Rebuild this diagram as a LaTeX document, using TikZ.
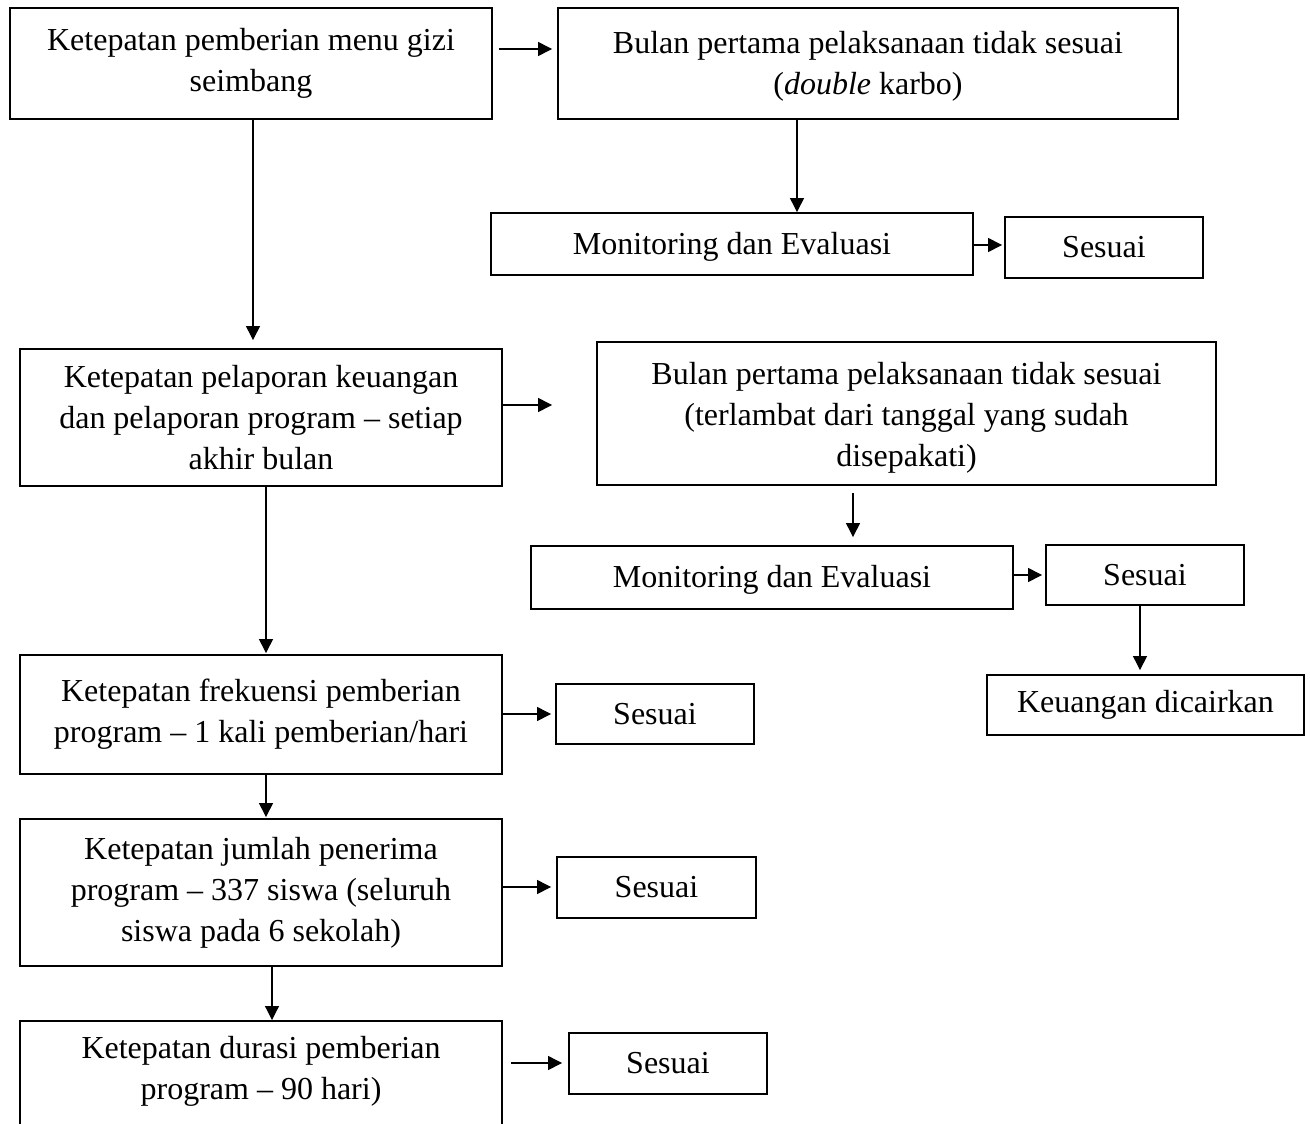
\documentclass[tikz,border=0pt]{standalone}
\usepackage{fontspec}
\setmainfont{Liberation Serif}
\usetikzlibrary{arrows.meta}
\begin{document}
\begin{tikzpicture}[x=0.75pt,y=-0.75pt,
  box/.style={draw, line width=1.4pt, inner sep=0pt, align=center,
    font=\fontsize{24pt}{30.75pt}\selectfont},
  txt/.style={inner sep=0pt, align=center, font=\fontsize{24pt}{30.75pt}\selectfont},
  arr/.style={line width=0.9pt, -{Triangle[length=10.5pt,width=10.5pt]}}]
\clip (0,0) rectangle (1310,1124);
% boxes
\node[box, minimum width=361.5pt, minimum height=83.25pt] (A) at (251,63.5)
  {Ketepatan pemberian menu gizi\\seimbang};
\node[box, minimum width=465pt, minimum height=83.25pt] (B) at (868,63.5) {};
\node[txt] (Bt) at (868,66) {Bulan pertama pelaksanaan tidak sesuai\\(\textit{double} karbo)};
\node[box, minimum width=361.5pt, minimum height=46.5pt] (C) at (732,244) {};
\node[txt] (Ct) at (732,247) {Monitoring dan Evaluasi};
\node[box, minimum width=148.5pt, minimum height=45.75pt] (D) at (1104,247.5)
  {Sesuai};
\node[box, minimum width=361.5pt, minimum height=102.75pt] (E) at (261,417.5)
  {Ketepatan pelaporan keuangan\\dan pelaporan program -- setiap\\akhir bulan};
\node[box, minimum width=464.25pt, minimum height=107.25pt] (F) at (906.5,413.5) {};
\node[txt] (Ft) at (906.5,418) {Bulan pertama pelaksanaan tidak sesuai\\(terlambat dari tanggal yang sudah\\disepakati)};
\node[box, minimum width=361.5pt, minimum height=47.25pt] (G) at (772,577.5) {};
\node[txt] (Gt) at (772,580) {Monitoring dan Evaluasi};
\node[box, minimum width=148.5pt, minimum height=45pt] (H) at (1145,575)
  {Sesuai};
\node[box, minimum width=237.75pt, minimum height=45pt] (I) at (1145.5,705)
  {Keuangan dicairkan};
\node[box, minimum width=361.5pt, minimum height=89.25pt] (J) at (261,714.5)
  {Ketepatan frekuensi pemberian\\program -- 1 kali pemberian/hari};
\node[box, minimum width=148.5pt, minimum height=45pt] (K) at (655,714)
  {Sesuai};
\node[box, minimum width=361.5pt, minimum height=110.25pt] (L) at (261,892.5)
  {Ketepatan jumlah penerima\\program -- 337 siswa (seluruh\\siswa pada 6 sekolah)};
\node[box, minimum width=149.25pt, minimum height=45.75pt] (M) at (656.5,887.5)
  {Sesuai};
\node[box, minimum width=361.5pt, minimum height=90pt, anchor=north] (N) at (261,1020) {};
\node[txt] (Nt) at (261,1071) {Ketepatan durasi pemberian\\program -- 90 hari)};
\node[box, minimum width=148.5pt, minimum height=45.75pt] (O) at (668,1063.5)
  {Sesuai};
% helper coordinates
\coordinate (yab) at (0,49);
\coordinate (xbc) at (797,0);
\coordinate (ycd) at (0,245);
\coordinate (xae) at (253,0);
\coordinate (yef) at (0,405);
\coordinate (xfg) at (853,0);
\coordinate (ygh) at (0,575);
\coordinate (xhi) at (1140,0);
\coordinate (xej) at (266,0);
\coordinate (yjk) at (0,714);
\coordinate (xjl) at (266,0);
\coordinate (ylm) at (0,887);
\coordinate (xln) at (272,0);
\coordinate (yno) at (0,1063);
% arrows
\draw[arr, shorten <=4.5pt, shorten >=3.75pt] (A.east |- yab) -- (B.west |- yab);
\draw[arr] (B.south -| xbc) -- (C.north -| xbc);
\draw[arr, shorten >=1.5pt] (C.east |- ycd) -- (D.west |- ycd);
\draw[arr, shorten >=6pt] (A.south -| xae) -- (E.north -| xae);
\draw[arr, shorten >=33pt] (E.east |- yef) -- (F.west |- yef);
\draw[arr, shorten <=5.25pt, shorten >=6pt] (F.south -| xfg) -- (G.north -| xfg);
\draw[arr, shorten >=2.25pt] (G.east |- ygh) -- (H.west |- ygh);
\draw[arr, shorten >=3pt] (H.south -| xhi) -- (I.north -| xhi);
\draw[arr, shorten >=0.75pt] (E.south -| xej) -- (J.north -| xej);
\draw[arr, shorten >=3pt] (J.east |- yjk) -- (K.west |- yjk);
\draw[arr, shorten >=0.75pt] (J.south -| xjl) -- (L.north -| xjl);
\draw[arr, shorten >=3.75pt] (L.east |- ylm) -- (M.west |- ylm);
\draw[arr] (L.south -| xln) -- (N.north -| xln);
\draw[arr, shorten <=6pt, shorten >=4.5pt] (N.east |- yno) -- (O.west |- yno);
\end{tikzpicture}
\end{document}
